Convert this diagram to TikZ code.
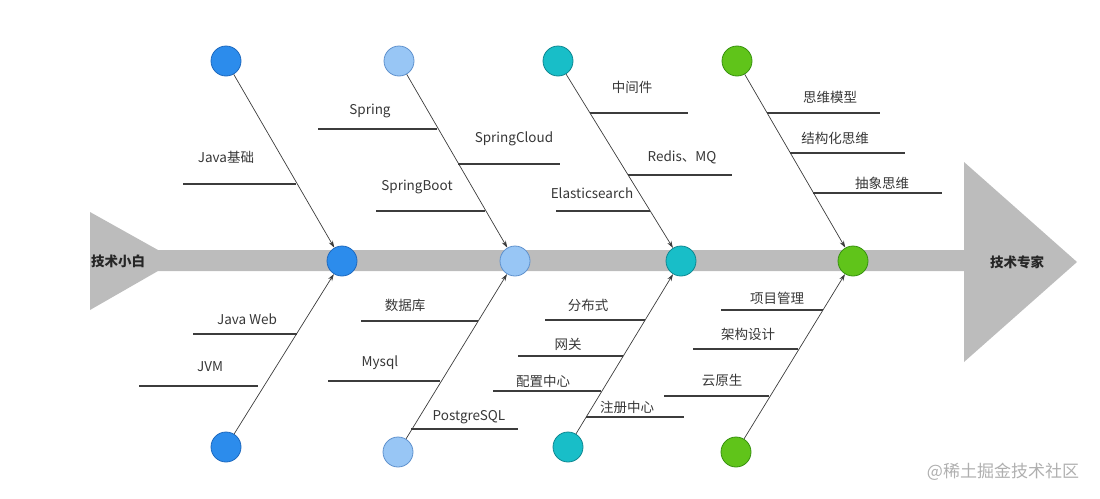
\documentclass[tikz,border=0pt]{standalone}
\usepackage{fontspec}
\setmainfont{Noto Sans CJK SC}
\usetikzlibrary{arrows.meta}

\definecolor{spinegray}{RGB}{188,188,188}
\definecolor{textgray}{RGB}{55,55,55}
\definecolor{linegray}{RGB}{60,60,60}
\definecolor{markgray}{RGB}{175,175,175}
\definecolor{cblue}{RGB}{44,140,236}
\definecolor{cblueD}{RGB}{30,105,190}
\definecolor{clight}{RGB}{152,198,245}
\definecolor{clightD}{RGB}{95,145,205}
\definecolor{cteal}{RGB}{24,190,200}
\definecolor{ctealD}{RGB}{15,135,145}
\definecolor{cgreen}{RGB}{96,196,26}
\definecolor{cgreenD}{RGB}{55,145,15}

\begin{document}
\begin{tikzpicture}[x=1pt, y=-1pt,
  every node/.style={font=\fontsize{13.5}{16}\selectfont, text=textgray},
  bead/.style={circle, draw, line width=0.8pt, minimum size=30pt, inner sep=0pt},
  bone/.style={draw=linegray, line width=0.7pt, -{Stealth[length=7pt,width=4.5pt]}},
  twig/.style={draw=linegray, line width=1.3pt},
  endlabel/.style={font=\bfseries\fontsize{13.5}{16}\selectfont, text=black!85}]

\useasboundingbox (0,0) rectangle (1100,498);

% The fish spine with its tail and head.

\fill[spinegray] (90,212) -- (158,250) -- (964,250) -- (964,162) -- (1077,262)
  -- (964,362) -- (964,271) -- (158,271) -- (90,310) -- cycle;

\node[endlabel] (start) at (118,261) {技术小白};
\node[endlabel] (goal) at (1017,262) {技术专家};

\node[bead, fill=cblue, draw=cblueD] (t1) at (226,61) {};
\node[bead, fill=clight, draw=clightD] (t2) at (399,61) {};
\node[bead, fill=cteal, draw=ctealD] (t3) at (558,61) {};
\node[bead, fill=cgreen, draw=cgreenD] (t4) at (737,61) {};

\node[bead, fill=cblue, draw=cblueD] (s1) at (342,261) {};
\node[bead, fill=clight, draw=clightD] (s2) at (515,261) {};
\node[bead, fill=cteal, draw=ctealD] (s3) at (681,261) {};
\node[bead, fill=cgreen, draw=cgreenD] (s4) at (853,261) {};

\node[bead, fill=cblue, draw=cblueD] (b1) at (226,447) {};
\node[bead, fill=clight, draw=clightD] (b2) at (398,452) {};
\node[bead, fill=cteal, draw=ctealD] (b3) at (568,447) {};
\node[bead, fill=cgreen, draw=cgreenD] (b4) at (736,452) {};

\draw[bone] (t1) -- (s1);
\draw[bone] (t2) -- (s2);
\draw[bone] (t3) -- (s3);
\draw[bone] (t4) -- (s4);

\draw[bone] (b1) -- (s1);
\draw[bone] (b2) -- (s2);
\draw[bone] (b3) -- (s3);
\draw[bone] (b4) -- (s4);

% Upper branches.

\node (javabase) at (226,157) {Java基础};
\draw[twig] (183,184) -- (296,184);

\node (spring) at (370,111) {Spring};
\draw[twig] (318,129) -- (437,129);
\node (springboot) at (417,187) {SpringBoot};
\draw[twig] (376,211) -- (485,211);
\node (springcloud) at (514,139) {SpringCloud};
\draw[twig] (458,164) -- (560,164);

\node (middleware) at (632,87) {中间件};
\draw[twig] (590,113) -- (688,113);
\node (redismq) at (682,157) {Redis、MQ};
\draw[twig] (628,175) -- (732,175);
\node (elastic) at (592,193) {Elasticsearch};
\draw[twig] (556,211) -- (650,211);

\node (model) at (830,97) {思维模型};
\draw[twig] (767,113) -- (880,113);
\node (structured) at (835,138) {结构化思维};
\draw[twig] (790,153) -- (905,153);
\node (abstract) at (882,183) {抽象思维};
\draw[twig] (813,193) -- (942,193);

% Lower branches.

\node (javaweb) at (247,319) {Java Web};
\draw[twig] (193,334) -- (297,334);
\node (jvm) at (210,367) {JVM};
\draw[twig] (139,386) -- (258,386);

\node (database) at (405,305) {数据库};
\draw[twig] (361,321) -- (478,321);
\node (mysql) at (380,363) {Mysql};
\draw[twig] (328,381) -- (440,381);
\node (postgres) at (469,417) {PostgreSQL};
\draw[twig] (411,429) -- (518,429);

\node (distributed) at (588,305) {分布式};
\draw[twig] (545,320) -- (645,320);
\node (gateway) at (568,344) {网关};
\draw[twig] (518,356) -- (623,356);
\node (config) at (543,381) {配置中心};
\draw[twig] (493,391) -- (601,391);
\node (registry) at (627,407) {注册中心};
\draw[twig] (586,417) -- (684,417);

\node (project) at (777,298) {项目管理};
\draw[twig] (721,310) -- (823,310);
\node (design) at (748,334) {架构设计};
\draw[twig] (693,349) -- (798,349);
\node (cloudnative) at (722,380) {云原生};
\draw[twig] (664,396) -- (769,396);

\node[font=\fontsize{17}{20}\selectfont, text=markgray] (mark) at (1003,472) {@稀土掘金技术社区};

\end{tikzpicture}
\end{document}
